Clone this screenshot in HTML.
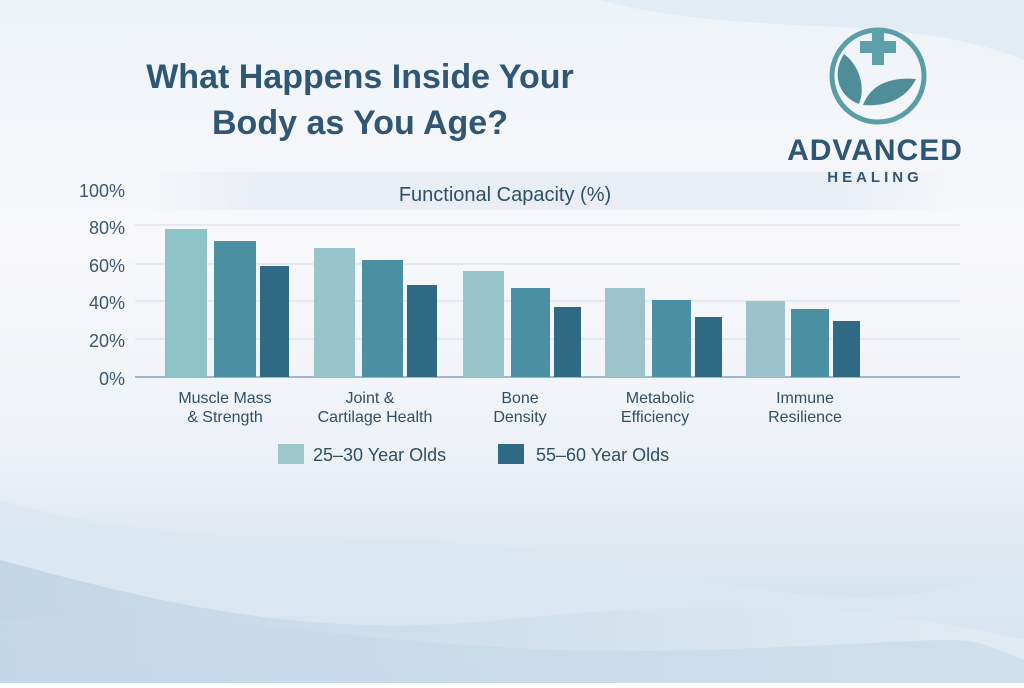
<!DOCTYPE html>
<html><head><meta charset="utf-8"><style>
body{margin:0;width:1024px;height:683px;overflow:hidden;font-family:"Liberation Sans",sans-serif;}
</style></head><body>
<svg width="1024" height="683" xmlns="http://www.w3.org/2000/svg">
<defs>
<linearGradient id="bg" x1="0" y1="0" x2="0" y2="1">
<stop offset="0" stop-color="#eef3f8"/><stop offset="0.35" stop-color="#f8f8fb"/><stop offset="0.65" stop-color="#eef2f7"/><stop offset="1" stop-color="#c9dcea"/></linearGradient>
<linearGradient id="w1" x1="0" y1="0" x2="1" y2="0"><stop offset="0" stop-color="#b7cfe2"/><stop offset="1" stop-color="#e4edf5"/></linearGradient>
<linearGradient id="hb" x1="0" y1="0" x2="1" y2="0"><stop offset="0" stop-color="#e6ecf3" stop-opacity="0"/><stop offset="0.15" stop-color="#e6ecf3"/><stop offset="0.85" stop-color="#e6ecf3"/><stop offset="1" stop-color="#e6ecf3" stop-opacity="0"/></linearGradient>
</defs>
<rect width="1024" height="683" fill="url(#bg)"/>
<path d="M0 500 C200 560 400 520 600 560 S900 620 1024 560 L1024 683 L0 683Z" fill="#dbe7f1" opacity="0.8"/>
<path d="M0 560 C150 600 300 640 500 620 S850 600 1024 640 L1024 683 L0 683Z" fill="url(#w1)" opacity="0.7"/>
<path d="M0 620 C200 600 400 660 700 650 S950 630 1024 660 L1024 683 L0 683Z" fill="#c5d8e8" opacity="0.6"/>
<path d="M600 0 C750 40 900 10 1024 60 L1024 0Z" fill="#dce8f2" opacity="0.7"/>
<text x="360" y="88" text-anchor="middle" font-size="34" font-weight="bold" fill="#2f5673">What Happens Inside Your</text>
<text x="360" y="134" text-anchor="middle" font-size="34" font-weight="bold" fill="#2f5673">Body as You Age?</text>
<!-- chart -->
<rect x="140" y="172" width="820" height="38" fill="url(#hb)" opacity="0.8"/>
<text x="505" y="201" text-anchor="middle" font-size="20" fill="#2f4f66">Functional Capacity (%)</text>
<g stroke="#dde6ef" stroke-width="1.5">
<line x1="135" y1="225" x2="960" y2="225"/><line x1="135" y1="264" x2="960" y2="264"/><line x1="135" y1="301" x2="960" y2="301"/><line x1="135" y1="339" x2="960" y2="339"/></g>
<line x1="135" y1="377" x2="960" y2="377" stroke="#9db8cc" stroke-width="2"/>
<g font-size="18" fill="#3b5870" text-anchor="end">
<text x="125" y="197">100%</text><text x="125" y="234">80%</text><text x="125" y="272">60%</text><text x="125" y="309">40%</text><text x="125" y="347">20%</text><text x="125" y="385">0%</text></g>
<g>
<rect x="165" y="229" width="42" height="148" fill="#8ec3c8"/><rect x="214" y="241" width="42" height="136" fill="#4b8fa2"/><rect x="260" y="266" width="29" height="111" fill="#2e6a84"/>
<rect x="314" y="248" width="41" height="129" fill="#97c5c9"/><rect x="362" y="260" width="41" height="117" fill="#4b8fa2"/><rect x="407" y="285" width="30" height="92" fill="#2e6a84"/>
<rect x="463" y="271" width="41" height="106" fill="#97c5c9"/><rect x="511" y="288" width="39" height="89" fill="#4b8fa2"/><rect x="554" y="307" width="27" height="70" fill="#2e6a84"/>
<rect x="605" y="288" width="40" height="89" fill="#9dc3cb"/><rect x="652" y="300" width="39" height="77" fill="#4b8fa2"/><rect x="695" y="317" width="27" height="60" fill="#2e6a84"/>
<rect x="746" y="301" width="39" height="76" fill="#9cc2cd"/><rect x="791" y="309" width="38" height="68" fill="#4b8fa2"/><rect x="833" y="321" width="27" height="56" fill="#2e6a84"/>
</g>
<g font-size="16" fill="#2f4f66" text-anchor="middle">
<text x="225" y="403">Muscle Mass</text><text x="225" y="422">&amp; Strength</text>
<text x="370" y="403">Joint &amp;</text><text x="375" y="422">Cartilage Health</text>
<text x="520" y="403">Bone</text><text x="520" y="422">Density</text>
<text x="660" y="403">Metabolic</text><text x="655" y="422">Efficiency</text>
<text x="805" y="403">Immune</text><text x="805" y="422">Resilience</text>
</g>
<rect x="278" y="444" width="26" height="20" fill="#9cc6ca"/>
<text x="313" y="461" font-size="18" fill="#2f4f66">25–30 Year Olds</text>
<rect x="498" y="444" width="26" height="20" fill="#2e6a84"/>
<text x="536" y="461" font-size="18" fill="#2f4f66">55–60 Year Olds</text>
<!-- logo -->
<circle cx="878" cy="76" r="46" fill="none" stroke="#5b9ea6" stroke-width="5"/>
<rect x="860" y="41" width="36" height="12" fill="#5ba0aa"/>
<rect x="872" y="29" width="12" height="36" fill="#5ba0aa"/>
<path d="M844 54 C831 74 839 97 859 104 C866 87 859 65 844 54Z" fill="#4f8e98"/>
<path d="M863 105 C871 84 891 77 916 79 C906 99 886 107 863 105Z" fill="#4f8e98"/>
<text x="875" y="160" text-anchor="middle" font-size="30" font-weight="bold" fill="#2f5673" letter-spacing="1">ADVANCED</text>
<text x="875" y="182" text-anchor="middle" font-size="15" font-weight="bold" fill="#2f5673" letter-spacing="4">HEALING</text>
</svg>
</body></html>
